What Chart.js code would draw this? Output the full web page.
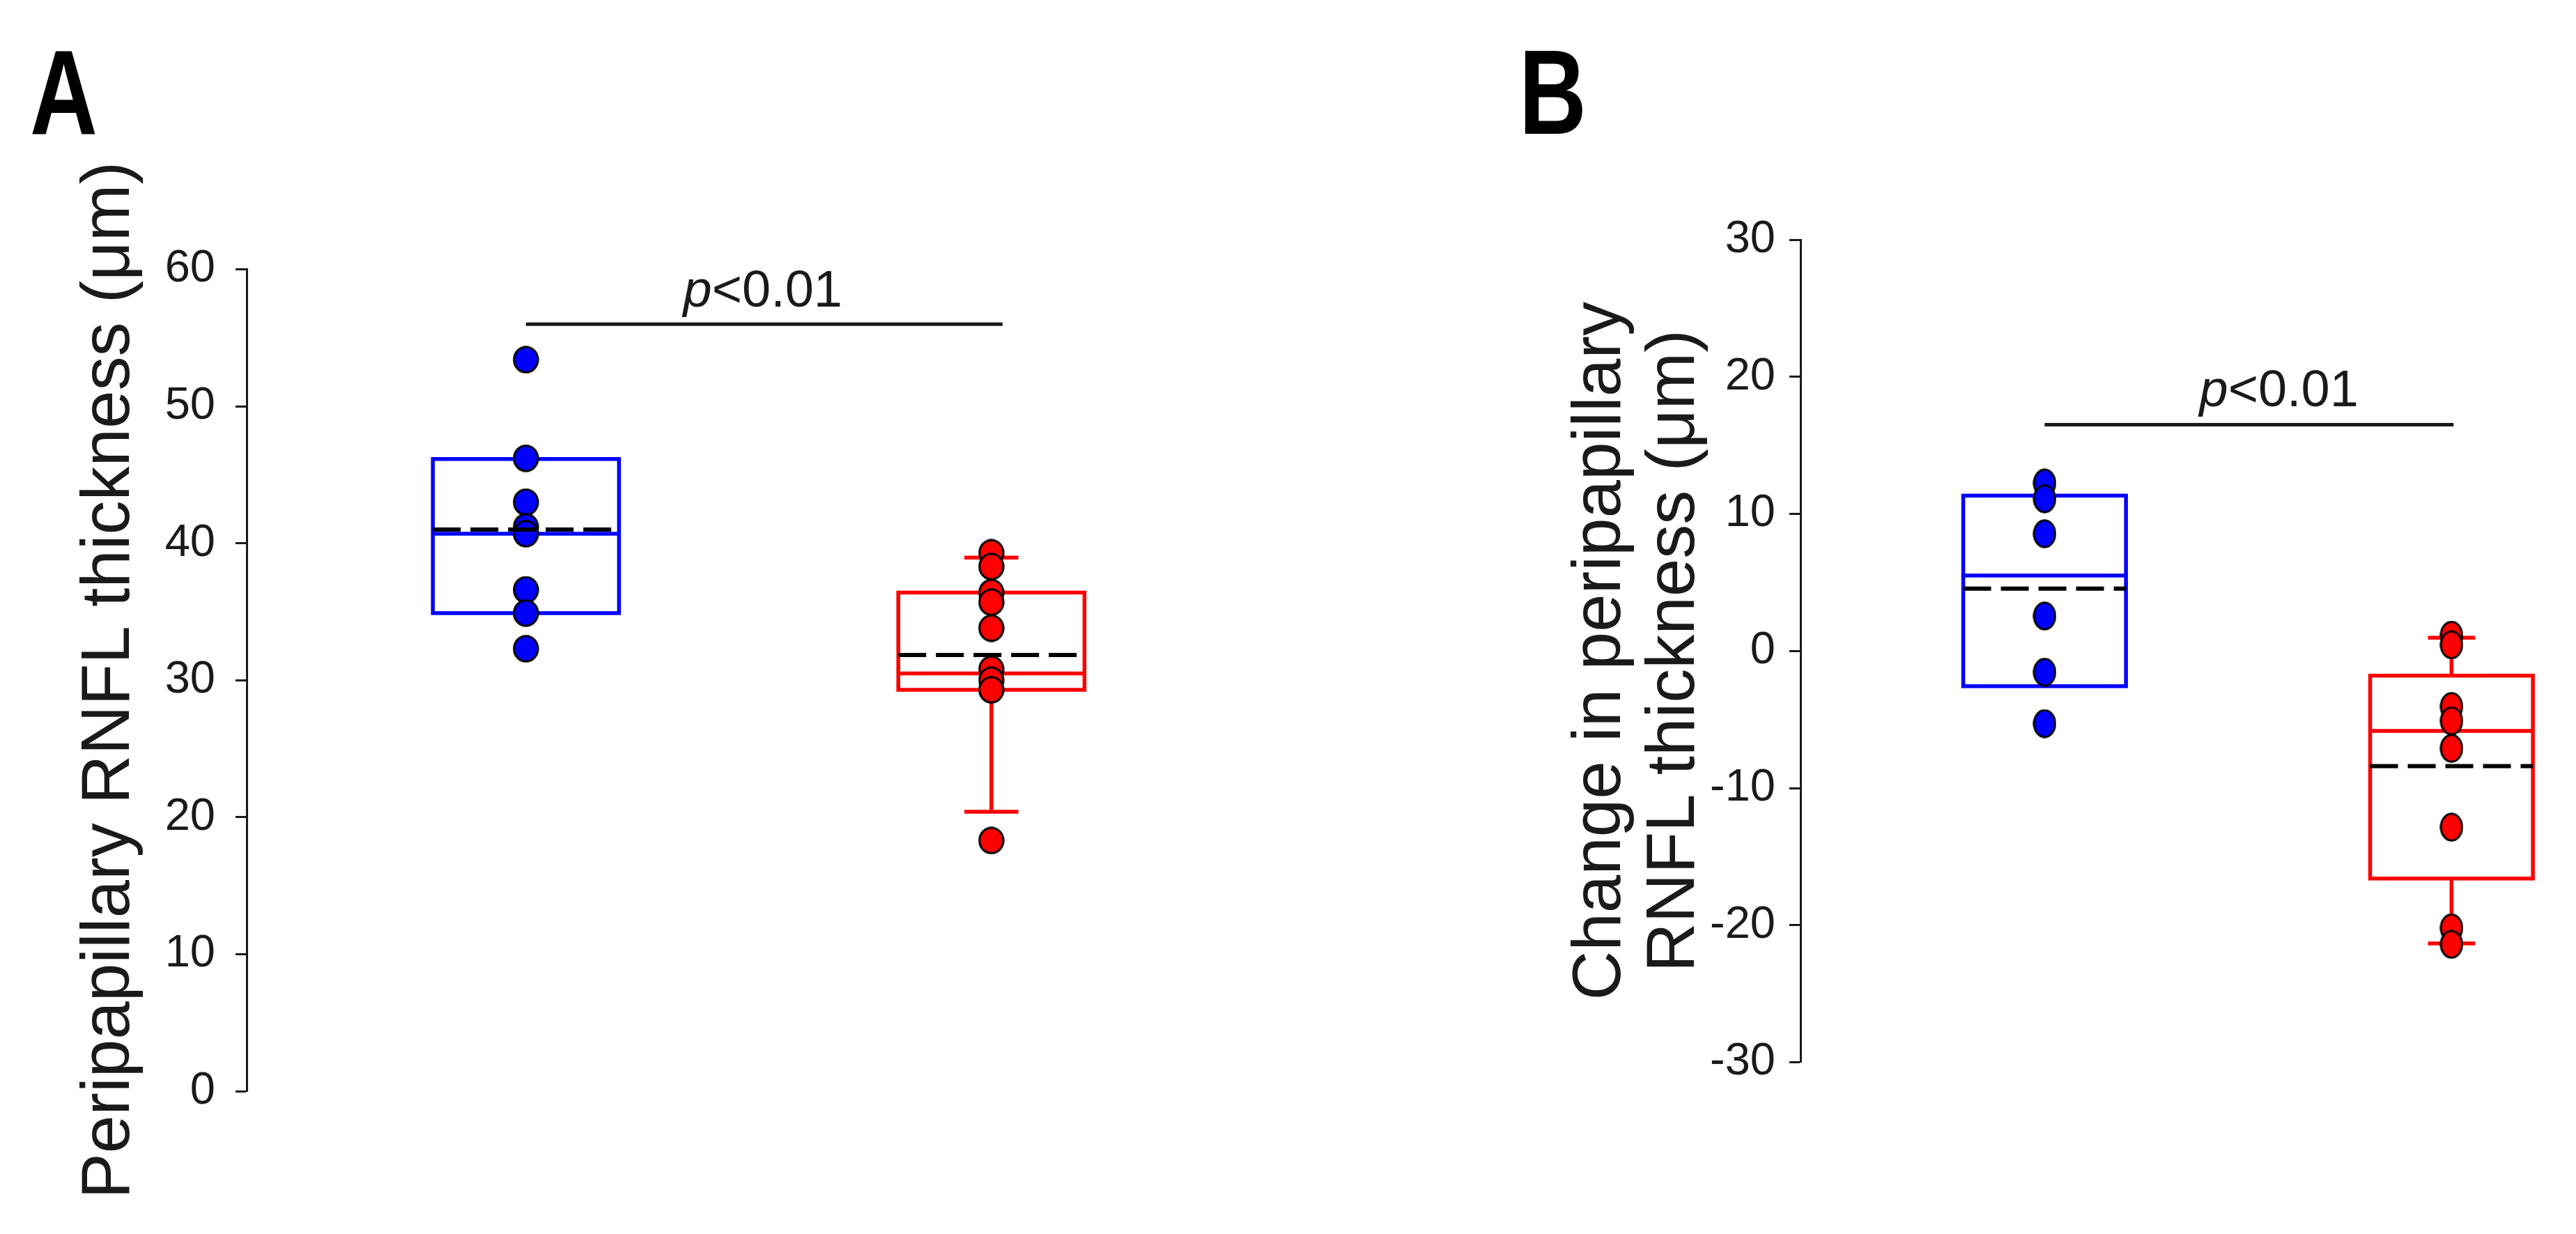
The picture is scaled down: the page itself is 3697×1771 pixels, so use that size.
<!DOCTYPE html>
<html><head><meta charset="utf-8">
<script src="https://cdn.jsdelivr.net/npm/chart.js@4.4.0/dist/chart.umd.min.js"></script>
<style>
html,body{margin:0;padding:0;background:#fff;}
body{width:3697px;height:1771px;position:relative;overflow:hidden;}
canvas{position:absolute;top:0;}
#cA{left:0;} #cB{left:1850px;}
</style></head><body>
<canvas id="cA" width="1800" height="1771"></canvas>
<canvas id="cB" width="1847" height="1771"></canvas>
<script>
// ---------------- data ----------------
const groupX = [1, 2];                       // blue group, red group
const panelLabels = ['A', 'B'];
const titleA = 'Peripapillary RNFL thickness (\u03bcm)';
const titleB = ['Change in peripapillary', 'RNFL thickness (\u03bcm)'];
const ticksA = [0, 10, 20, 30, 40, 50, 60];
const tickLabelsA = ['0', '10', '20', '30', '40', '50', '60'];
const ticksB = [-30, -20, -10, 0, 10, 20, 30];
const tickLabelsB = ['-30', '-20', '-10', '0', '10', '20', '30'];
const sigLabelItalic = 'p';
const sigLabelRest = '<0.01';

// individual values
const pointsA_blue = [53.4, 46.2, 43.0, 41.2, 40.7, 36.6, 34.9, 32.3];
const pointsA_red  = [39.3, 38.3, 36.4, 35.7, 33.8, 30.8, 30.0, 29.3, 18.3];
const pointsB_blue = [12.25, 11.1, 8.55, 2.55, -1.55, -5.3];
const pointsB_red  = [1.15, 0.45, -4.05, -5.1, -7.1, -12.85, -20.2, -21.4];

// box statistics: [q1, median, q3, mean, whiskerLow, whiskerHigh]
const boxA_blue = [34.9, 40.7, 46.15, 41.0, null, null];
const boxA_red  = [29.3, 30.5, 36.4, 31.85, 20.4, 38.95];
const boxB_blue = [-2.57, 5.5, 11.33, 4.55, null, null];
const boxB_red  = [-16.6, -5.83, -1.8, -8.4, -21.34, 0.96];

// significance bracket (data units): [xStart, xEnd, yLine, xText, yTextBaseline]
const sigA = [1.0, 2.024, 56.0, 1.509, 57.27];
const sigB = [1.0, 2.005, 16.5, 1.576, 17.85];

// ---------------- styling ----------------
const FONT = '"Liberation Sans", Arial, sans-serif';
const BLUE = '#0000ff', RED = '#ff0000', INK = '#1a1a1a';
const HALF_BOX = 0.2, HALF_CAP = 0.058;

function makeDot(fill, w, h) {
  const c = document.createElement('canvas');
  c.width = w; c.height = h;
  const g = c.getContext('2d');
  g.beginPath();
  g.ellipse(w / 2, h / 2, w / 2 - 1.8, h / 2 - 1.8, 0, 0, Math.PI * 2);
  g.fillStyle = fill; g.fill();
  g.lineWidth = 3; g.strokeStyle = '#000'; g.stroke();
  return c;
}

function seg(ctx, x1, y1, x2, y2) {
  ctx.beginPath(); ctx.moveTo(x1, y1); ctx.lineTo(x2, y2); ctx.stroke();
}

function boxPlugin(boxes, sig, label, labelX) {
  return {
    id: 'boxes',
    beforeDatasetsDraw(chart) {
      const {ctx} = chart; const xs = chart.scales.x, ys = chart.scales.y;
      const X = v => xs.getPixelForValue(v), Y = v => ys.getPixelForValue(v);
      ctx.save();
      ctx.lineCap = 'butt'; ctx.lineJoin = 'miter';
      boxes.forEach(b => {
        const [q1, med, q3, mean, wl, wh] = b.stats;
        const xl = X(b.x - HALF_BOX), xr = X(b.x + HALF_BOX), xc = X(b.x);
        ctx.strokeStyle = b.color; ctx.lineWidth = 5.5;
        if (wl !== null) {
          seg(ctx, xc, Y(q1), xc, Y(wl));
          seg(ctx, X(b.x - HALF_CAP), Y(wl), X(b.x + HALF_CAP), Y(wl));
        }
        if (wh !== null) {
          seg(ctx, xc, Y(q3), xc, Y(wh));
          seg(ctx, X(b.x - HALF_CAP), Y(wh), X(b.x + HALF_CAP), Y(wh));
        }
        ctx.strokeRect(xl, Y(q3), xr - xl, Y(q1) - Y(q3));
        seg(ctx, xl, Y(med), xr, Y(med));
      });
      ctx.restore();
    },
    afterDatasetsDraw(chart) {
      const {ctx} = chart; const xs = chart.scales.x, ys = chart.scales.y;
      const X = v => xs.getPixelForValue(v), Y = v => ys.getPixelForValue(v);
      ctx.save();
      // mean (dashed black)
      ctx.strokeStyle = '#000'; ctx.lineWidth = 6; ctx.setLineDash([40, 14]);
      boxes.forEach(b => {
        const mean = b.stats[3];
        seg(ctx, X(b.x - HALF_BOX), Y(mean), X(b.x + HALF_BOX), Y(mean));
      });
      ctx.setLineDash([]);
      // significance bracket
      const [sx1, sx2, sy, tx, ty] = sig;
      ctx.strokeStyle = INK; ctx.lineWidth = 5;
      seg(ctx, X(sx1), Y(sy), X(sx2), Y(sy));
      const fItal = 'italic 74px ' + FONT, fNorm = '74px ' + FONT;
      ctx.font = fItal; const w1 = ctx.measureText(sigLabelItalic).width;
      ctx.font = fNorm; const w2 = ctx.measureText(sigLabelRest).width;
      let x0 = X(tx) - (w1 + w2) / 2;
      ctx.fillStyle = INK; ctx.textBaseline = 'alphabetic'; ctx.textAlign = 'left';
      ctx.font = fItal; ctx.fillText(sigLabelItalic, x0, Y(ty));
      ctx.font = fNorm; ctx.fillText(sigLabelRest, x0 + w1, Y(ty));
      // panel letter
      ctx.save();
      ctx.translate(labelX, 192);
      ctx.scale(0.78, 1);
      ctx.font = 'bold 172px ' + FONT;
      ctx.fillStyle = '#000';
      ctx.fillText(label, 0, 0);
      ctx.restore();
      ctx.restore();
    }
  };
}

function makeChart(id, cfg) {
  const dotB = makeDot(BLUE, cfg.dotW, cfg.dotH), dotR = makeDot(RED, cfg.dotW, cfg.dotH);
  const padRight = cfg.canvasW - cfg.axisW - (cfg.xmax - cfg.xmin) * cfg.pxPerUnit;
  return new Chart(document.getElementById(id), {
    type: 'scatter',
    data: {
      datasets: [
        {data: cfg.blue.map(v => ({x: groupX[0], y: v})), pointStyle: dotB, pointRadius: 20, pointHoverRadius: 20},
        {data: cfg.red.map(v => ({x: groupX[1], y: v})), pointStyle: dotR, pointRadius: 20, pointHoverRadius: 20}
      ]
    },
    options: {
      responsive: false, animation: false, devicePixelRatio: 1,
      events: [],
      layout: {padding: {left: 0, top: cfg.top, bottom: cfg.bottom, right: padRight}},
      plugins: {legend: {display: false}, tooltip: {enabled: false}, title: {display: false}},
      scales: {
        x: {type: 'linear', display: false, min: cfg.xmin, max: cfg.xmax},
        y: {
          type: 'linear', min: cfg.ticks[0], max: cfg.ticks[cfg.ticks.length - 1],
          afterFit: s => { s.width = cfg.axisW; },
          afterBuildTicks: s => { s.ticks = cfg.ticks.map(v => ({value: v})); },
          ticks: {
            font: {family: FONT, size: 65}, color: INK, padding: cfg.tickPad,
            autoSkip: false,
            callback: (v, i) => cfg.tickLabels[i]
          },
          grid: {drawOnChartArea: false, drawTicks: true, tickLength: 16, tickWidth: 3, tickColor: INK},
          border: {display: true, color: INK, width: 3},
          title: {
            display: true, text: cfg.title, color: INK,
            font: {family: FONT, size: 98, lineHeight: cfg.titleLH},
            padding: {top: cfg.titlePad, bottom: 0}
          }
        }
      }
    },
    plugins: [boxPlugin(cfg.boxes, cfg.sig, cfg.label, cfg.labelX)]
  });
}

makeChart('cA', {
  canvasW: 1800, axisW: 354, xmin: 0.4, xmax: 2.4, pxPerUnit: 668,
  top: 386.5, bottom: 205, tickPad: 29,
  ticks: ticksA, tickLabels: tickLabelsA,
  title: titleA, titleLH: 1.2, titlePad: 99,
  blue: pointsA_blue, red: pointsA_red, dotW: 38, dotH: 40,
  boxes: [{x: groupX[0], stats: boxA_blue, color: BLUE}, {x: groupX[1], stats: boxA_red, color: RED}],
  sig: sigA, label: panelLabels[0], labelX: 43
});

makeChart('cB', {
  canvasW: 1847, axisW: 734, xmin: 0.4, xmax: 2.27, pxPerUnit: 587.5,
  top: 344, bottom: 246.5, tickPad: 20,
  ticks: ticksB, tickLabels: tickLabelsB,
  title: titleB, titleLH: 1.082, titlePad: 395,
  blue: pointsB_blue, red: pointsB_red, dotW: 34, dotH: 42,
  boxes: [{x: groupX[0], stats: boxB_blue, color: BLUE}, {x: groupX[1], stats: boxB_red, color: RED}],
  sig: sigB, label: panelLabels[1], labelX: 330
});
</script>
</body></html>
